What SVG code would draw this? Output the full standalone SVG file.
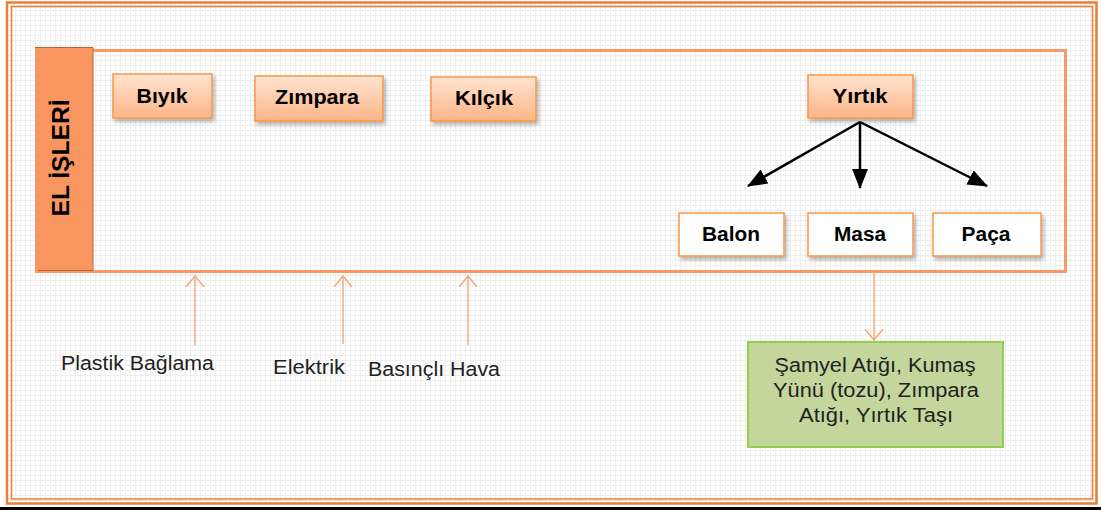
<svg xmlns="http://www.w3.org/2000/svg" width="1101" height="510" viewBox="0 0 1101 510">
<defs>
<pattern id="grid" x="0" y="0" width="5" height="5" patternUnits="userSpaceOnUse">
<rect width="5" height="5" fill="#efefef"/>
<rect x="1" y="1" width="4" height="4" fill="#ffffff"/>
</pattern>
<linearGradient id="ng" x1="0" y1="0" x2="0" y2="1">
<stop offset="0" stop-color="#FFE3CF"/>
<stop offset="1" stop-color="#FBB588"/>
</linearGradient>
<filter id="sh" x="-10%" y="-10%" width="130%" height="140%">
<feDropShadow dx="2" dy="3" stdDeviation="2" flood-color="#000" flood-opacity="0.3"/>
</filter>
<marker id="blk" markerWidth="20" markerHeight="16" refX="19" refY="8" orient="auto" markerUnits="userSpaceOnUse" viewBox="0 0 20 16">
<path d="M0,0 L20,8 L0,16 Z" fill="#000"/>
</marker>
<marker id="opn" markerWidth="12" markerHeight="20" refX="11" refY="10" orient="auto" markerUnits="userSpaceOnUse" viewBox="0 0 12 20">
<path d="M0,1 L11,10 L0,19" fill="none" stroke="#F7A06A" stroke-width="1.3"/>
</marker>
<style>
.node{fill:url(#ng);stroke:#F79646;stroke-width:1.5;filter:url(#sh)}
.wnode{fill:#ffffff;stroke:#F79646;stroke-width:1.5;filter:url(#sh)}
.nt{font-family:"Liberation Sans",Arial,sans-serif;font-weight:bold;font-size:20px;fill:#000;text-anchor:middle}
.lt{font-family:"Liberation Sans",Arial,sans-serif;font-size:20px;fill:#222;}
.gt{font-family:"Liberation Sans",Arial,sans-serif;font-size:20px;fill:#222;text-anchor:middle}
.blk{stroke:#000;stroke-width:2.5;fill:none;marker-end:url(#blk)}
.oa{stroke:#F7A06A;stroke-width:1.3;fill:none;marker-end:url(#opn)}
</style>
</defs>
<rect width="1101" height="510" fill="#ffffff"/>
<rect x="8" y="3" width="1088" height="499" fill="url(#grid)"/>
<g id="frame">
<rect x="7" y="2.5" width="1089.5" height="501" fill="none" stroke="#ED7D31" stroke-width="2.5"/>
<rect x="11.5" y="6.5" width="1081" height="492.5" fill="none" stroke="#ED7D31" stroke-width="1.5"/>
<rect x="0" y="507" width="1101" height="3" fill="#000"/>
</g>
<g id="main">
<rect x="36.5" y="50.5" width="1029" height="221" fill="none" stroke="#F99A66" stroke-width="3"/>
<rect x="35" y="47" width="58" height="223.5" fill="#F9955F"/>
<path d="M35,47.5 H93 V270.5 H38" fill="none" stroke="#B5652F" stroke-width="1"/>
<text x="0" y="0" transform="translate(69,158) rotate(-90)" text-anchor="middle" font-family="'Liberation Sans',Arial,sans-serif" font-weight="bold" font-size="23" textLength="117" lengthAdjust="spacingAndGlyphs">EL İŞLERİ</text>
</g>
<g id="n-biyik"><rect class="node" x="113" y="74" width="99" height="44"/><text class="nt" x="162" y="103" textLength="51" lengthAdjust="spacingAndGlyphs">Bıyık</text></g>
<g id="n-zimpara"><rect class="node" x="255" y="76" width="128" height="45"/><text class="nt" x="317" y="104" textLength="84" lengthAdjust="spacingAndGlyphs">Zımpara</text></g>
<g id="n-kilcik"><rect class="node" x="431" y="77" width="105" height="44"/><text class="nt" x="484" y="105" textLength="58" lengthAdjust="spacingAndGlyphs">Kılçık</text></g>
<g id="n-yirtik"><rect class="node" x="808" y="75" width="105" height="43"/><text class="nt" x="860" y="103" textLength="55" lengthAdjust="spacingAndGlyphs">Yırtık</text></g>
<g id="n-balon"><rect class="wnode" x="679" y="213" width="105" height="43"/><text class="nt" x="731" y="241" textLength="58" lengthAdjust="spacingAndGlyphs">Balon</text></g>
<g id="n-masa"><rect class="wnode" x="808" y="213" width="105" height="43"/><text class="nt" x="860" y="241" textLength="52" lengthAdjust="spacingAndGlyphs">Masa</text></g>
<g id="n-paca"><rect class="wnode" x="933" y="213" width="108" height="43"/><text class="nt" x="986" y="241" textLength="49" lengthAdjust="spacingAndGlyphs">Paça</text></g>
<g id="n-atik">
<rect x="748" y="342" width="255" height="105" fill="#C3D69B" stroke="#92D050" stroke-width="2"/>
<text class="gt" x="875" y="372" textLength="201" lengthAdjust="spacingAndGlyphs">Şamyel Atığı, Kumaş</text>
<text class="gt" x="876" y="397" textLength="206" lengthAdjust="spacingAndGlyphs">Yünü  (tozu), Zımpara</text>
<text class="gt" x="876" y="422" textLength="154" lengthAdjust="spacingAndGlyphs">Atığı, Yırtık Taşı</text>
</g>
<g id="labels">
<text class="lt" x="61" y="370" textLength="153" lengthAdjust="spacingAndGlyphs">Plastik Bağlama</text>
<text class="lt" x="273" y="374" textLength="72" lengthAdjust="spacingAndGlyphs">Elektrik</text>
<text class="lt" x="368" y="376" textLength="132" lengthAdjust="spacingAndGlyphs">Basınçlı Hava</text>
</g>
<g id="connectors">
<line class="blk" x1="860" y1="122" x2="748" y2="186"/>
<line class="blk" x1="860" y1="122" x2="860" y2="188"/>
<line class="blk" x1="860" y1="122" x2="987" y2="186"/>
<line class="oa" x1="195" y1="345" x2="195" y2="276"/>
<line class="oa" x1="343" y1="344" x2="343" y2="276"/>
<line class="oa" x1="468" y1="345" x2="468" y2="276"/>
<line class="oa" x1="874" y1="273" x2="874" y2="340"/>
</g>
</svg>
